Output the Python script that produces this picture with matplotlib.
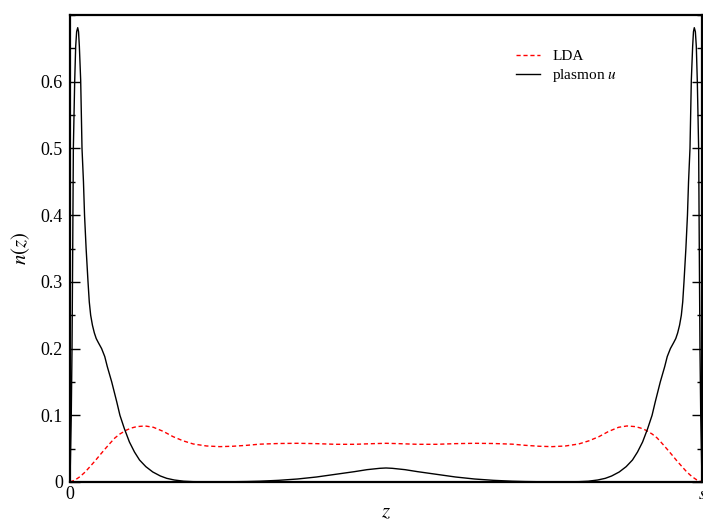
import matplotlib
matplotlib.use("Agg")
import matplotlib.pyplot as plt
from matplotlib.ticker import MultipleLocator

plt.rcParams["font.family"] = ["Liberation Serif", "DejaVu Serif"]
plt.rcParams["mathtext.fontset"] = "stix"

# Position across the slab, in units of its width s
z_lda = [0.0, 0.008, 0.0158, 0.024, 0.0316, 0.04, 0.0475, 0.055, 0.0633, 0.071,
         0.079, 0.0897, 0.0975, 0.1055, 0.1187, 0.132, 0.148, 0.163, 0.179, 0.195,
         0.216, 0.237, 0.258, 0.28, 0.30, 0.33, 0.36, 0.39, 0.42, 0.45,
         0.48, 0.50,
         0.52, 0.55, 0.58, 0.61, 0.64, 0.67, 0.70, 0.72, 0.742, 0.763,
         0.784, 0.805, 0.821, 0.837, 0.852, 0.868, 0.8813, 0.8945, 0.9025, 0.9103,
         0.921, 0.929, 0.9367, 0.945, 0.9525, 0.96, 0.9684, 0.976, 0.9842, 0.992,
         1.0]
n_lda = [0.0, 0.003, 0.008, 0.015, 0.023, 0.032, 0.0406, 0.049, 0.058, 0.066,
         0.072, 0.078, 0.081, 0.083, 0.084, 0.082, 0.0757, 0.068, 0.0617, 0.057,
         0.054, 0.053, 0.0536, 0.055, 0.0567, 0.0577, 0.058, 0.0575, 0.0565, 0.0565,
         0.0575, 0.058,
         0.0575, 0.0565, 0.0565, 0.0575, 0.058, 0.0577, 0.0567, 0.055, 0.0536, 0.053,
         0.054, 0.057, 0.0617, 0.068, 0.0757, 0.082, 0.084, 0.083, 0.081, 0.078,
         0.072, 0.066, 0.058, 0.049, 0.0406, 0.032, 0.023, 0.015, 0.008, 0.003,
         0.0]

z_pl = [0.0, 0.001, 0.002, 0.0032, 0.0043, 0.0053, 0.0074, 0.009, 0.0105, 0.0122,
        0.0135, 0.0148, 0.0169, 0.019, 0.0213, 0.023, 0.0255, 0.0285, 0.0305, 0.0327,
        0.0355, 0.0385, 0.0415, 0.0448, 0.050, 0.055, 0.059, 0.066, 0.074, 0.079,
        0.086, 0.094, 0.102, 0.110, 0.120, 0.131, 0.143, 0.153, 0.165, 0.180,
        0.195, 0.22, 0.25, 0.28, 0.30, 0.33, 0.36, 0.39, 0.42, 0.45,
        0.47, 0.49, 0.50,
        0.51, 0.53, 0.55, 0.58, 0.61, 0.64, 0.67, 0.70, 0.72, 0.75,
        0.78, 0.805, 0.82, 0.835, 0.847, 0.857, 0.869, 0.88, 0.89, 0.898,
        0.906, 0.914, 0.921, 0.926, 0.934, 0.941, 0.945, 0.95, 0.9552, 0.9585,
        0.9615, 0.9645, 0.9673, 0.9695, 0.9715, 0.9745, 0.977, 0.9787, 0.981, 0.9831,
        0.9852, 0.9865, 0.9878, 0.9895, 0.991, 0.9926, 0.9947, 0.9957, 0.9968, 0.998,
        0.999, 1.0]
n_pl = [0.0, 0.05, 0.10, 0.20, 0.35, 0.50, 0.60, 0.653, 0.675, 0.681,
        0.675, 0.653, 0.602, 0.50, 0.45, 0.40, 0.35, 0.30, 0.27, 0.25,
        0.235, 0.2235, 0.215, 0.209, 0.200, 0.188, 0.173, 0.150, 0.120, 0.100,
        0.080, 0.060, 0.045, 0.033, 0.023, 0.015, 0.009, 0.0055, 0.003, 0.0012,
        0.0005, 0.0003, 0.0003, 0.0007, 0.0012, 0.0025, 0.0045, 0.0075, 0.0115, 0.0155,
        0.0185, 0.0205, 0.021,
        0.0205, 0.0185, 0.0155, 0.0115, 0.0075, 0.0045, 0.0025, 0.0012, 0.0007, 0.0003,
        0.0003, 0.0005, 0.0012, 0.003, 0.0055, 0.009, 0.015, 0.023, 0.033, 0.045,
        0.060, 0.080, 0.100, 0.120, 0.150, 0.173, 0.188, 0.200, 0.209, 0.215,
        0.2235, 0.235, 0.25, 0.27, 0.30, 0.35, 0.40, 0.45, 0.50, 0.602,
        0.653, 0.675, 0.681, 0.675, 0.653, 0.60, 0.50, 0.35, 0.20, 0.10,
        0.05, 0.0]

x_ticks = [0, 1]
x_ticklabels = ["0", "$s$"]
y_ticks = [0.0, 0.1, 0.2, 0.3, 0.4, 0.5, 0.6]
y_ticklabels = ["0", "0.1", "0.2", "0.3", "0.4", "0.5", "0.6"]

fig = plt.figure(figsize=(7.03, 5.23), dpi=100)
ax = fig.add_axes([70 / 703, 41 / 523, 632 / 703, 467 / 523])

ax.plot(z_lda, n_lda, color="#ff0000", lw=1.0, dashes=(3, 2), label="LDA")
ax.plot(z_pl, n_pl, color="black", lw=1.0, label="plasmon $u$")

ax.set_xlim(0, 1)
ax.set_ylim(0, 0.7)
ax.set_xticks(x_ticks)
ax.set_xticklabels(x_ticklabels)
ax.set_yticks(y_ticks)
ax.set_yticklabels(y_ticklabels)
ax.yaxis.set_minor_locator(MultipleLocator(0.05))

ax.tick_params(axis="y", which="major", direction="in", length=7, width=1,
               right=True, labelsize=13, pad=5)
ax.tick_params(axis="y", which="minor", direction="in", length=3.5, width=1,
               right=True)
ax.tick_params(axis="x", which="major", direction="in", length=0,
               labelsize=13, pad=3)
for sp in ax.spines.values():
    sp.set_linewidth(1.6)

ax.set_xlabel("$z$", fontsize=15, labelpad=0)
ax.set_ylabel("$n(z)$", fontsize=15, labelpad=6)

ax.legend(loc="upper left", bbox_to_anchor=(502 / 703, 1 - 36 / 523),
          bbox_transform=fig.transFigure, frameon=False, fontsize=11,
          handlelength=1.6, handletextpad=0.8, labelspacing=0.25)

fig.savefig("out.png", dpi=100)
